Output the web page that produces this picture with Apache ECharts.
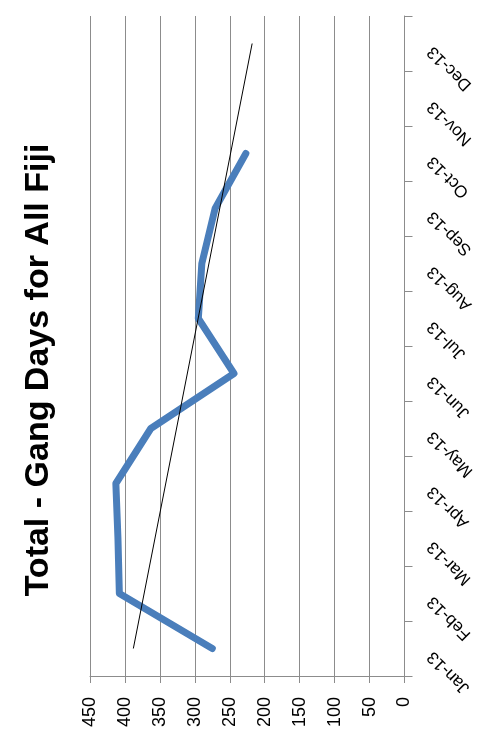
<!DOCTYPE html>
<html>
<head>
<meta charset="utf-8">
<script src="https://cdn.jsdelivr.net/npm/echarts@6/dist/echarts.min.js"></script>
<style>
html,body{margin:0;padding:0;background:#fff;}
#gang_chart{width:493px;height:732px;}
</style>
</head>
<body>
<div id="gang_chart"></div>
<script>
// chart is drawn turned on its side: months run bottom to top, values right to left
var months = ['Jan-13','Feb-13','Mar-13','Apr-13','May-13','Jun-13','Jul-13','Aug-13','Sep-13','Oct-13','Nov-13','Dec-13'];
var gangDays = [275, 408, 410, 413, 363, 244, 295, 290, 271, 227, null, null];
// linear trend as drawn, only its two ends
var trendLine = [388, null, null, null, null, null, null, null, null, null, null, 218];
var valueTicks = [0, 450, 50];

var myChart = echarts.init(document.getElementById('gang_chart'));

var gridGrey = '#8c8c8c';

option = {
    animation: false,
    graphic: [{
        type: 'text',
        x: 39,
        y: 370,
        rotation: Math.PI / 2,
        style: {
            text: 'Total - Gang Days for All Fiji',
            font: 'bold 34px "Liberation Sans"',
            fill: '#000',
            textAlign: 'center',
            textVerticalAlign: 'middle'
        }
    }],
    grid: {left: 90, right: 88.5, top: 16, bottom: 56},
    xAxis: {
        type: 'value',
        inverse: true,
        min: valueTicks[0],
        max: valueTicks[1],
        interval: valueTicks[2],
        position: 'bottom',
        axisLine: {show: true, lineStyle: {color: gridGrey, width: 1}},
        axisTick: {show: true, length: 7, lineStyle: {color: gridGrey}},
        splitLine: {show: true, lineStyle: {color: gridGrey, width: 1}},
        axisLabel: {
            rotate: 90,
            margin: 21,
            fontSize: 18,
            fontFamily: 'Liberation Sans',
            color: '#000'
        }
    },
    yAxis: {
        type: 'category',
        data: months,
        position: 'right',
        boundaryGap: true,
        axisLine: {show: true, lineStyle: {color: gridGrey, width: 1}},
        axisTick: {show: true, length: 8, lineStyle: {color: gridGrey}},
        splitLine: {show: false},
        axisLabel: {
            rotate: 135,
            margin: 20,
            padding: [0, 8, 0, 0],
            fontSize: 17,
            fontFamily: 'Liberation Sans',
            color: '#000',
            interval: 0
        }
    },
    series: [
        {
            name: 'Gang Days',
            type: 'line',
            data: gangDays,
            showSymbol: false,
            symbol: 'none',
            lineStyle: {color: '#4a7ebb', width: 7, cap: 'round', join: 'round'}
        },
        {
            name: 'Trend',
            type: 'line',
            data: trendLine,
            connectNulls: true,
            showSymbol: false,
            symbol: 'none',
            lineStyle: {color: '#000', width: 1}
        }
    ]
};

myChart.setOption(option);
</script>
</body>
</html>
